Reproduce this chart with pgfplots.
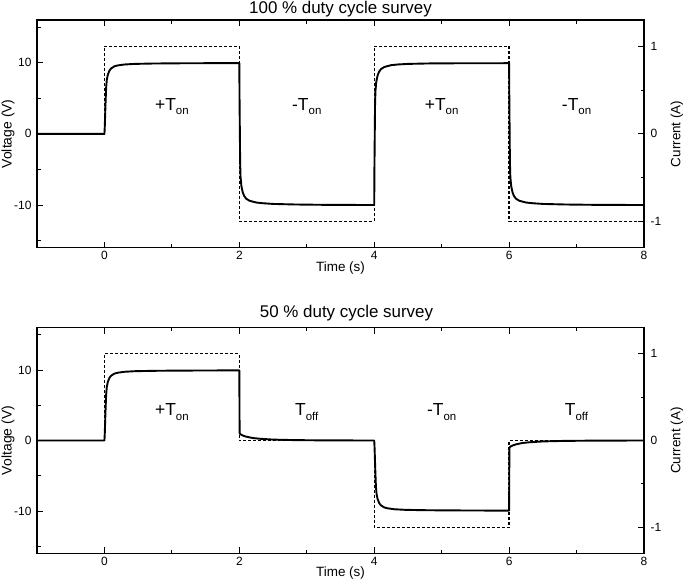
\documentclass[border=0pt]{standalone}
\usepackage{fontspec}
\setmainfont{Liberation Sans}
\usepackage{pgfplots}
\usepackage{pgfplotstable}
\pgfplotsset{compat=1.18}

\pgfplotstableread{
t V
-1 0
0 0
0.005 1
0.015 4
0.025 6.5
0.035 7.6
0.05 8.3
0.075 8.9
0.1 9.2
0.15 9.5
0.2 9.62
0.3 9.75
0.45 9.83
0.7 9.88
1.0 9.91
1.5 9.93
2.0 9.95
2.003 5
2.008 0
2.012 -4
2.018 -6
2.03 -7.3
2.05 -8.2
2.07 -8.7
2.1 -9.1
2.15 -9.4
2.25 -9.65
2.35 -9.75
2.5 -9.85
2.84 -9.93
3.3 -9.98
4.0 -10
4.003 -5
4.008 0
4.012 4
4.018 6
4.03 7.3
4.05 8.2
4.07 8.7
4.1 9.1
4.15 9.4
4.25 9.65
4.35 9.75
4.5 9.83
4.84 9.9
5.3 9.92
6.0 9.93
6.003 5
6.008 0
6.012 -4
6.018 -6
6.03 -7.3
6.05 -8.2
6.07 -8.7
6.1 -9.1
6.15 -9.4
6.25 -9.65
6.35 -9.75
6.5 -9.85
6.84 -9.93
7.3 -9.98
8.0 -10
}\vtop

\pgfplotstableread{
t I
-1 0
0 0
0 1
2 1
2 -1
4 -1
4 1
6 1
6 -1
8 -1
}\itop

\pgfplotstableread{
t V
-1 0
0 0
0.005 1
0.015 4
0.025 6.5
0.035 7.6
0.05 8.3
0.075 8.9
0.1 9.2
0.15 9.5
0.2 9.62
0.3 9.75
0.45 9.83
0.7 9.88
1.0 9.91
1.5 9.93
2.0 9.95
2.004 1.1
2.01 0.95
2.03 0.8
2.06 0.68
2.1 0.55
2.2 0.35
2.3 0.25
2.5 0.13
2.8 0.06
3.2 0.02
4.0 0
4.005 -1
4.015 -4
4.025 -6.5
4.035 -7.6
4.05 -8.3
4.075 -8.9
4.1 -9.2
4.15 -9.5
4.2 -9.62
4.3 -9.75
4.45 -9.83
4.7 -9.88
5.0 -9.91
5.5 -9.93
6.0 -9.95
6.004 -1.07
6.01 -0.95
6.03 -0.8
6.06 -0.68
6.1 -0.55
6.2 -0.35
6.3 -0.25
6.5 -0.13
6.8 -0.06
7.2 -0.02
8.0 0
}\vbot

\pgfplotstableread{
t I
-1 0
0 0
0 1
2 1
2 0
4 0
4 -1
6 -1
6 0
8 0
}\ibot

\pgfplotsset{
  common/.style={
    scale only axis, width=607bp,
    xmin=-1, xmax=8,
    axis line style={line width=1.5bp},
    every tick/.style={black, line width=0.9bp},
    major tick length=6bp, minor tick length=3.5bp,
    tick align=inside,
    tick label style={font=\fontsize{12}{14}\selectfont},
    /pgf/number format/assume math mode=true,
  },
  leftax/.style={
    common,
    ymin=-16, ymax=16,
    ytick={-10,0,10}, minor ytick={-15,-5,5,15},
    xtick={0,2,4,6,8}, minor xtick={1,3,5,7},
    xtick pos=both, ytick pos=left,
    yticklabel style={xshift=-2bp},
    every axis y label/.style={at={(rel axis cs:0,0.5)}, xshift=-29bp, rotate=90, anchor=center, font=\fontsize{14}{16}\selectfont},
    every axis x label/.style={at={(rel axis cs:0.5,0)}, yshift=-20bp, anchor=center, font=\fontsize{13.5}{15}\selectfont},
    xlabel={Time (s)}, ylabel={Voltage (V)},
  },
  rightax/.style={
    common,
    ymin=-1.3, ymax=1.3,
    ytick={-1,0,1}, minor ytick={-0.5,0.5},
    hide x axis, axis y line*=right, ytick pos=right,
    yticklabel style={xshift=3bp},
    every axis y label/.style={at={(rel axis cs:1,0.5)}, xshift=33bp, rotate=90, anchor=center, font=\fontsize{13.5}{15}\selectfont},
    ylabel={Current (A)},
  },
}
\tikzset{
  vline/.style={black, line width=1.9bp, line join=round},
  iline/.style={black, line width=1.3bp, dash pattern=on 3bp off 2bp},
  mylab/.style={anchor=base, font=\fontsize{17.5}{19}\selectfont},
}

\newcommand{\lab}[2]{#1\raisebox{-4.5bp}{\fontsize{11.5}{12}\selectfont #2}}

\begin{document}
\begin{tikzpicture}
\useasboundingbox (0,0) rectangle (685bp,-581bp);
% ---- top panel ----
\begin{axis}[leftax, height=227.7bp, at={(37bp,-20bp)}, anchor=north west,
  title={100 \% duty cycle survey},
  every axis title/.style={at={(rel axis cs:0.5,1)}, yshift=10.4bp, anchor=center, inner sep=0pt, font=\fontsize{17}{19}\selectfont}]
\addplot[vline] table[x=t,y=V] {\vtop};
\node[mylab] at (axis cs:1,3.3) {\lab{+T}{on}};
\node[mylab] at (axis cs:3,3.3) {\lab{-T}{on}};
\node[mylab] at (axis cs:5,3.3) {\lab{+T}{on}};
\node[mylab] at (axis cs:7,3.3) {\lab{-T}{on}};
\end{axis}
\begin{axis}[rightax, height=227.7bp, at={(37bp,-20bp)}, anchor=north west]
\addplot[iline] table[x=t,y=I] {\itop};
\end{axis}
% ---- bottom panel ----
\begin{axis}[leftax, height=225.6bp, at={(37bp,-327.7bp)}, anchor=north west,
  title={50 \% duty cycle survey},
  every axis title/.style={at={(rel axis cs:0.5,1)}, yshift=14.5bp, xshift=6bp, anchor=center, inner sep=0pt, font=\fontsize{17}{19}\selectfont}]
\addplot[vline] table[x=t,y=V] {\vbot};
\node[mylab] at (axis cs:1,3.5) {\lab{+T}{on}};
\node[mylab] at (axis cs:3,3.5) {\lab{T}{off}};
\node[mylab] at (axis cs:5,3.5) {\lab{-T}{on}};
\node[mylab] at (axis cs:7,3.5) {\lab{T}{off}};
\end{axis}
\begin{axis}[rightax, height=225.6bp, at={(37bp,-327.7bp)}, anchor=north west]
\addplot[iline] table[x=t,y=I] {\ibot};
\end{axis}
\end{tikzpicture}
\end{document}
